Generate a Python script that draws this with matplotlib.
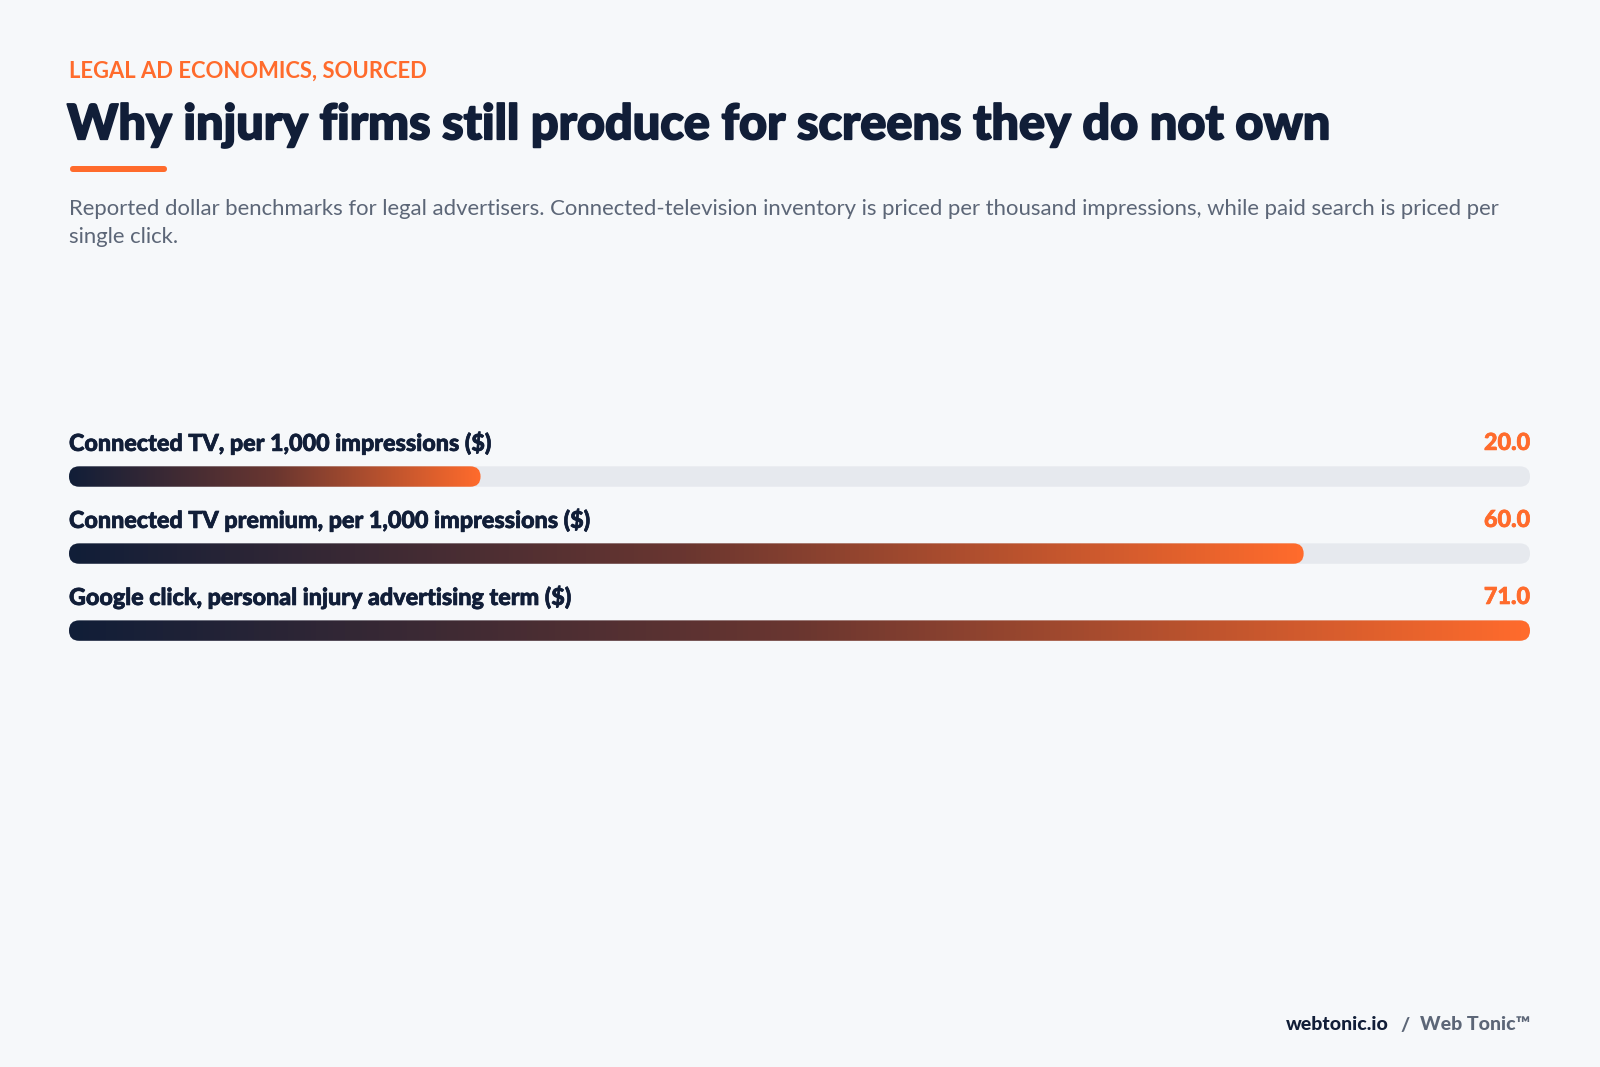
import numpy as np
import matplotlib.pyplot as plt
import matplotlib.patheffects as pe
from matplotlib import font_manager
from matplotlib.patches import FancyBboxPatch
from matplotlib.colors import LinearSegmentedColormap

# data
labels = [
    "Connected TV, per 1,000 impressions ($)",
    "Connected TV premium, per 1,000 impressions ($)",
    "Google click, personal injury advertising term ($)",
]
values = [20.0, 60.0, 71.0]

kicker = "LEGAL AD ECONOMICS, SOURCED"
title = "Why injury firms still produce for screens they do not own"
subtitle = ("Reported dollar benchmarks for legal advertisers. Connected-television inventory is priced "
            "per thousand impressions, while paid search is priced per\nsingle click.")
footer_site = "webtonic.io"
footer_brand = "Web Tonic\u2122"

# colours
BG = "#F6F8FA"
NAVY = "#111E38"
ORANGE = "#FF6B2C"
GREY = "#5C6677"
TRACK = "#E6E9EE"

plt.rcParams['font.family'] = ['Lato', 'DejaVu Sans']


def lato(fname, size):
    for f in font_manager.fontManager.ttflist:
        if f.fname.endswith(fname):
            return font_manager.FontProperties(fname=f.fname, size=size)
    return font_manager.FontProperties(family='Lato', weight='bold', size=size)


W, H = 1600, 1067
fig = plt.figure(figsize=(W / 100, H / 100), dpi=100, facecolor=BG)


def fx(x):
    return x / W


def fy(y):
    return 1 - y / H


# header
fig.text(fx(69), fy(71), kicker, color=ORANGE, fontproperties=lato('Lato-Bold.ttf', 15.8),
         ha='left', va='center')
fig.text(fx(67), fy(125), title, color=NAVY, fontproperties=lato('Lato-Black.ttf', 35),
         ha='left', va='center',
         path_effects=[pe.withStroke(linewidth=1.3, foreground=NAVY)])
fig.patches.append(FancyBboxPatch((fx(70), fy(172)), fx(97), 6 / H,
                                  boxstyle="round,pad=0,rounding_size=0.002",
                                  mutation_aspect=W / H,
                                  transform=fig.transFigure, facecolor=ORANGE,
                                  edgecolor='none'))
fig.text(fx(69), fy(223), subtitle, color=GREY, fontsize=15.9, ha='left', va='center',
         linespacing=1.5)

# bars
vmax = max(values)
left_px, right_px = 69, 1530
top_px, bot_px = 407.2, 669.1
ax = fig.add_axes([fx(left_px), fy(bot_px), (right_px - left_px) / W, (bot_px - top_px) / H])
ax.set_xlim(0, vmax)
ax.set_ylim(2.5, -0.9)
ax.axis('off')
ax.set_facecolor('none')

bar_h = 0.265
px_per_x = (right_px - left_px) / vmax
px_per_y = (bot_px - top_px) / 3.4
aspect = px_per_x / px_per_y
r = 10.2 / px_per_x

cmap = LinearSegmentedColormap.from_list("grad", [NAVY, "#6A3630", ORANGE])
grad = np.linspace(0, 1, 256).reshape(1, -1)
fp_lab = lato('Lato-Heavy.ttf', 16.8)

for i, (lab, v) in enumerate(zip(labels, values)):
    track = FancyBboxPatch((0, i - bar_h / 2), vmax, bar_h,
                           boxstyle=f"round,pad=0,rounding_size={r}",
                           mutation_aspect=aspect, facecolor=TRACK, edgecolor='none',
                           zorder=1)
    ax.add_patch(track)
    bar = FancyBboxPatch((0, i - bar_h / 2), v, bar_h,
                         boxstyle=f"round,pad=0,rounding_size={r}",
                         mutation_aspect=aspect, facecolor='none', edgecolor='none')
    ax.add_patch(bar)
    im = ax.imshow(grad, cmap=cmap, aspect='auto', extent=(0, v, i + bar_h / 2, i - bar_h / 2),
                   interpolation='bicubic', zorder=2)
    im.set_clip_path(bar)
    ax.text(0, i - 0.43, lab, color=NAVY, fontproperties=fp_lab, ha='left', va='center',
            path_effects=[pe.withStroke(linewidth=0.5, foreground=NAVY)])
    ax.text(vmax, i - 0.43, f"{v:.1f}", color=ORANGE, fontproperties=fp_lab,
            ha='right', va='center',
            path_effects=[pe.withStroke(linewidth=0.5, foreground=ORANGE)])

ax.set_xlim(0, vmax)
ax.set_ylim(2.5, -0.9)

# footer
renderer = fig.canvas.get_renderer()
fp_foot = lato('Lato-Heavy.ttf', 14)
t_brand = fig.text(fx(1530), fy(1025), footer_brand, color=GREY, fontproperties=fp_foot,
                   ha='right', va='center')
bw = t_brand.get_window_extent(renderer).width
t_sep = fig.text(fx(1530 - bw - 10), fy(1025), "/", color=GREY, fontproperties=fp_foot,
                 ha='right', va='center')
sw = t_sep.get_window_extent(renderer).width
fig.text(fx(1530 - bw - 10 - sw - 12), fy(1025), footer_site, color=NAVY, fontproperties=fp_foot,
         ha='right', va='center')

fig.savefig("out.png", dpi=100, facecolor=BG)
